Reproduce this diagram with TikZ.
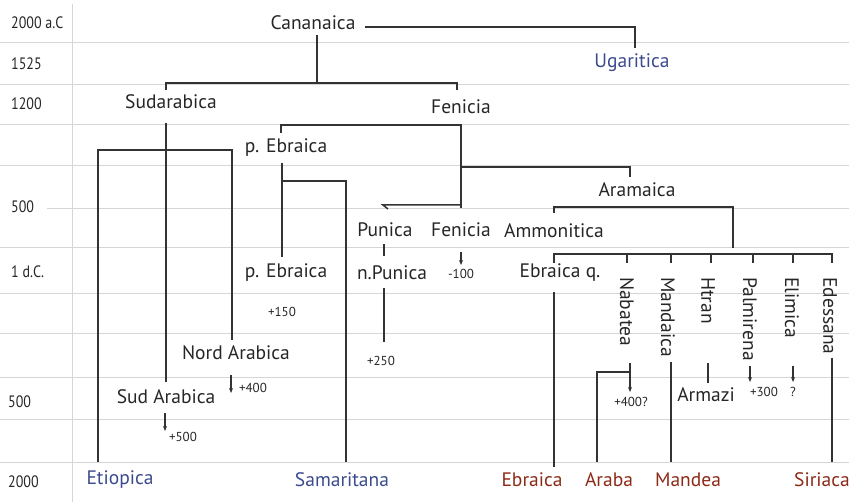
\documentclass[tikz,border=0pt]{standalone}
\usepackage{fontspec}
\setmainfont{PT Sans}
\usetikzlibrary{arrows.meta}
\definecolor{lnc}{HTML}{333333}
\definecolor{gridc}{HTML}{D6D6D6}
\definecolor{blu}{HTML}{3B4A8E}
\definecolor{rd}{HTML}{8C2A17}
\begin{document}
\begin{tikzpicture}[x=1pt,y=-1pt,
  lbl/.style={font=\fontsize{19.5}{21}\selectfont, inner sep=0pt, text=black!85},
  rot/.style={lbl, rotate=-90, anchor=west},
  yr/.style={font=\fontsize{16.5}{18}\selectfont, anchor=west, xscale=0.85, inner sep=0pt, text=black!85},
  sm/.style={font=\fontsize{13}{14}\selectfont, inner sep=0pt, text=black!85},
  gl/.style={draw=gridc, line width=1pt},
  ln/.style={draw=lnc, line width=1.5pt},
  arr/.style={ln, -{Stealth[length=5pt,width=4pt]}}]
\useasboundingbox (0,0) rectangle (851,502);
% grid
\foreach \yy in {43,85,125,166,248,294,334,377,419,462}
  \draw[gl] (0,\yy) -- (849,\yy);
\draw[gl] (47,209) -- (849,209);
\draw[gl] (72,4) -- (72,502);
% year labels
\node[yr] (y1) at (11,23) {2000 a.C};
\node[yr] (y2) at (11,64) {1525};
\node[yr] (y3) at (11,104) {1200};
\node[yr] (y4) at (11,207) {500};
\node[yr] (y5) at (11,272) {1 d.C.};
\node[yr] (y6) at (8,402) {500};
\node[yr] (y7) at (8,482) {2000};
% main labels
\node[lbl] (cana) at (313,23) {Cananaica};
\node[lbl, text=blu] (ugar) at (632,63) {Ugaritica};
\node[lbl] (sudar) at (171,102) {Sudarabica};
\node[lbl] (fen1) at (461,107) {Fenicia};
\node[lbl] (peb1) at (286,148) {p. Ebraica};
\node[lbl] (aram) at (637,190) {Aramaica};
\node[lbl] (pun) at (385,230) {Punica};
\node[lbl] (fen2) at (461,230) {Fenicia};
\node[lbl] (ammo) at (554,231) {Ammonitica};
\node[lbl] (peb2) at (286,273) {p. Ebraica};
\node[lbl] (npun) at (392,273) {n.Punica};
\node[lbl] (ebq) at (560,273) {Ebraica q.};
\node[lbl] (nord) at (236,353) {Nord Arabica};
\node[lbl] (sud) at (166,397) {Sud Arabica};
\node[lbl] (armazi) at (706,395) {Armazi};
\node[rot] (nab) at (627,277) {Nabatea};
\node[rot] (mand) at (668,277) {Mandaica};
\node[rot] (htran) at (708,277) {Htran};
\node[rot] (palm) at (750,277) {Palmirena};
\node[rot] (elim) at (792,277) {Elimica};
\node[rot] (edes) at (830,277) {Edessana};
% bottom labels
\node[lbl, text=blu] (etio) at (120,480) {Etiopica};
\node[lbl, text=blu] (samar) at (342,480) {Samaritana};
\node[lbl, text=rd] (ebr) at (532,480) {Ebraica};
\node[lbl, text=rd] (araba) at (609,480) {Araba};
\node[lbl, text=rd] (mandea) at (688,480) {Mandea};
\node[lbl, text=rd] (siri) at (822,480) {Siriaca};
% small labels
\node[sm] (p150) at (282,312) {+150};
\node[sm] (p250) at (381,361) {+250};
\node[sm] (m100) at (461,274) {-100};
\node[sm] (p400) at (253,388) {+400};
\node[sm] (p500) at (183,437) {+500};
\node[sm] (p400q) at (631,402) {+400?};
\node[sm] (p300) at (764,392) {+300};
\node[sm] (qm) at (793,392) {?};
% connectors
\draw[ln] (365,27) -- (635,27) -- (635,48);
\draw[ln] (317,35) -- (317,83);
\draw[ln] (166,90) -- (166,83) -- (457,83) -- (457,90);
\draw[ln] (166,123) -- (166,382);
\draw[ln] (98,462) -- (98,150) -- (232,150) -- (232,340);
\draw[ln] (281,133) -- (281,125) -- (461,125) -- (461,208);
\draw[ln] (461,167) -- (630,167) -- (630,177);
\draw[ln] (461,205) -- (383,205) -- (388,209);
\draw[ln] (384,244) -- (384,256);
\draw[ln] (384,288) -- (384,342);
\draw[ln] (282,163) -- (282,257);
\draw[ln] (282,181) -- (346,181) -- (346,462);
\draw[arr] (461,252) -- (461,265);
\draw[arr] (231,375) -- (231,393);
\draw[arr] (165,413) -- (165,431);
\draw[ln] (554,213) -- (554,207) -- (733,207) -- (733,248);
\draw[ln] (554,263) -- (554,254) -- (832,254) -- (832,263);
\foreach \xx in {627,671,711,753,793}
  \draw[ln] (\xx,254) -- (\xx,263);
\draw[ln] (554,292) -- (554,467);
\draw[ln] (630,363) -- (630,372);
\draw[ln] (597,462) -- (597,372) -- (630,372);
\draw[arr] (630,372) -- (630,392);
\draw[ln] (671,362) -- (671,462);
\draw[ln] (708,363) -- (708,383);
\draw[arr] (750,366) -- (750,382);
\draw[arr] (793,366) -- (793,382);
\draw[ln] (832,358) -- (832,462);
\end{tikzpicture}
\end{document}
